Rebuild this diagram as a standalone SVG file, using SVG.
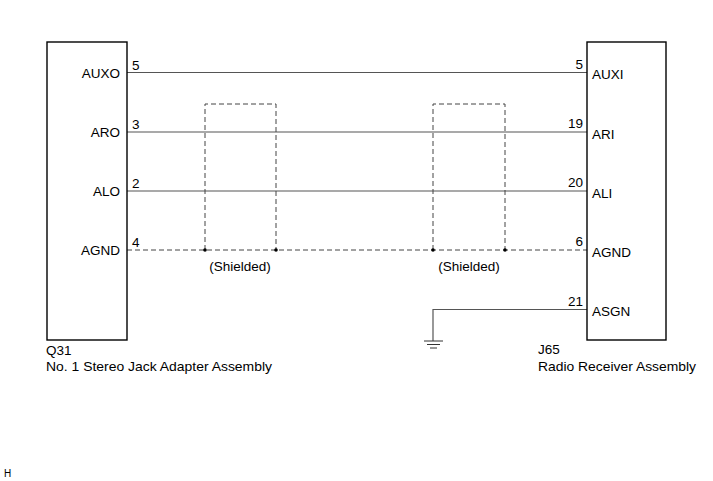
<svg xmlns="http://www.w3.org/2000/svg" width="713" height="481" viewBox="0 0 713 481">
<defs>
<style>
text{font-family:"Liberation Sans",Arial,sans-serif;font-size:13.5px;fill:#000}
.box{fill:#fff;stroke:#000;stroke-width:1.4}
.wire{stroke:#555;stroke-width:1.2;fill:none}
.dash{stroke:#444;stroke-width:1;fill:none;stroke-dasharray:5,3}
.dot{fill:#000}
.r{text-anchor:end}
.m{text-anchor:middle}
</style>
</defs>
<rect width="713" height="481" fill="#fff"/>
<g id="connectors">
<line class="wire" x1="127" y1="72.5" x2="587" y2="72.5"/>
<line class="wire" x1="127" y1="132" x2="587" y2="132"/>
<line class="wire" x1="127" y1="191" x2="587" y2="191"/>
<line class="dash" x1="127" y1="250" x2="587" y2="250"/>
<polyline class="dash" points="205,250 205,104 276,104 276,250"/>
<polyline class="dash" points="433,250 433,104 505,104 505,250"/>
<circle class="dot" cx="205" cy="250" r="1.8"/>
<circle class="dot" cx="276" cy="250" r="1.8"/>
<circle class="dot" cx="433" cy="250" r="1.8"/>
<circle class="dot" cx="505" cy="250" r="1.8"/>
<text class="m" x="240" y="271">(Shielded)</text>
<text class="m" x="469" y="271">(Shielded)</text>
<polyline class="wire" points="587,309.5 433,309.5 433,341" stroke="#333"/>
<line x1="424" y1="341" x2="443" y2="341" stroke="#333" stroke-width="1"/>
<line x1="427" y1="344.5" x2="440" y2="344.5" stroke="#333" stroke-width="1"/>
<line x1="430" y1="348" x2="437" y2="348" stroke="#333" stroke-width="1"/>
</g>
<g id="Q31">
<rect class="box" x="47" y="42" width="80" height="298"/>
<text class="r" x="120" y="78">AUXO</text>
<text class="r" x="120" y="137">ARO</text>
<text class="r" x="120" y="196">ALO</text>
<text class="r" x="120" y="255">AGND</text>
<text x="132" y="69.5">5</text>
<text x="132" y="129">3</text>
<text x="132" y="188">2</text>
<text x="132" y="247">4</text>
<text x="46" y="355">Q31</text>
<text x="46" y="371" textLength="226" lengthAdjust="spacingAndGlyphs">No. 1 Stereo Jack Adapter Assembly</text>
</g>
<g id="J65">
<rect class="box" x="587" y="42" width="79" height="298"/>
<text x="592" y="79">AUXI</text>
<text x="592" y="138.5">ARI</text>
<text x="592" y="197.5">ALI</text>
<text x="592" y="256.5">AGND</text>
<text x="592" y="316">ASGN</text>
<text class="r" x="583" y="68.5">5</text>
<text class="r" x="583" y="128">19</text>
<text class="r" x="583" y="187">20</text>
<text class="r" x="583" y="246">6</text>
<text class="r" x="583" y="305.5">21</text>
<text x="538" y="354">J65</text>
<text x="538" y="371" textLength="158" lengthAdjust="spacingAndGlyphs">Radio Receiver Assembly</text>
</g>
<text x="4" y="477" style="font-size:10px">H</text>
</svg>
